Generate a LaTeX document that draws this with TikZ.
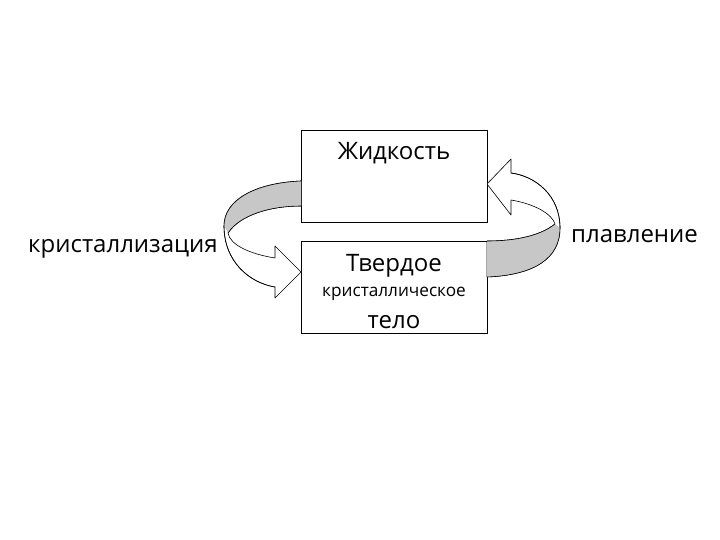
\documentclass[tikz,border=0pt]{standalone}
\usepackage{fontspec}
\setmainfont{Open Sans}
\begin{document}
\begin{tikzpicture}[x=1pt,y=-1pt,
  box/.style={draw=black,line width=0.8pt,minimum width=186pt,minimum height=92pt,inner sep=0pt},
  big/.style={font=\fontsize{24}{28}\selectfont,inner sep=0pt},
  small/.style={font=\fontsize{17.2}{20}\selectfont,inner sep=0pt},
  ribbon/.style={draw=black,line width=0.6pt,fill=white,line join=round},
  back/.style={fill=black!22}]
\useasboundingbox (0,0) rectangle (720,540);
\fill[white] (0,0) rectangle (720,540);
\node[box] (liq) at (394,176.5) {};
\node[box] (sol) at (394,287.5) {};
\node[big,anchor=base] (t1) at (394,160) {Жидкость};
\node[big,anchor=base] (t2) at (394,271.7) {Твердое};
\node[small,anchor=base] (t3) at (394,296.7) {кристаллическое};
\node[big,anchor=base] (t4) at (394,328.3) {тело};
\node[big,anchor=base west] (lk) at (28,252) {кристаллизация};
\node[big,anchor=base west] (lp) at (571,243) {плавление};
% left ribbon arrow
\draw[ribbon] (301,181) .. controls (255,183) and (224,200) .. (224,226)
  .. controls (224,262) and (250,283) .. (275,287)
  -- (275,298) -- (301,272) -- (275,246) -- (275,258)
  .. controls (250,254) and (230,245) .. (228,233)
  .. controls (240,215) and (270,206) .. (301,206) -- cycle;
\fill[back] (301,181) .. controls (255,183) and (224,200) .. (224,226)
  -- (228,233) .. controls (240,215) and (270,206) .. (301,206) -- cycle;
\draw[line width=0.6pt] (301,181) .. controls (255,183) and (224,200) .. (224,226)
  .. controls (224,262) and (250,283) .. (275,287);
\draw[line width=0.6pt] (228,233) .. controls (240,215) and (270,206) .. (301,206);
% right ribbon arrow
\draw[ribbon] (487,277) .. controls (535,275) and (560,258) .. (560,228)
  .. controls (560,195) and (535,176) .. (511,173)
  -- (511,159) -- (487,184) -- (511,215) -- (511,200)
  .. controls (535,204) and (552,214) .. (555,224)
  .. controls (540,236) and (515,241) .. (487,241) -- cycle;
\fill[back] (487,277) .. controls (535,275) and (560,258) .. (560,228)
  -- (555,224) .. controls (540,236) and (515,241) .. (487,241) -- cycle;
\draw[line width=0.6pt] (487,277) .. controls (535,275) and (560,258) .. (560,228)
  .. controls (560,195) and (535,176) .. (511,173);
\draw[line width=0.6pt] (555,224) .. controls (540,236) and (515,241) .. (487,241);
\end{tikzpicture}
\end{document}
